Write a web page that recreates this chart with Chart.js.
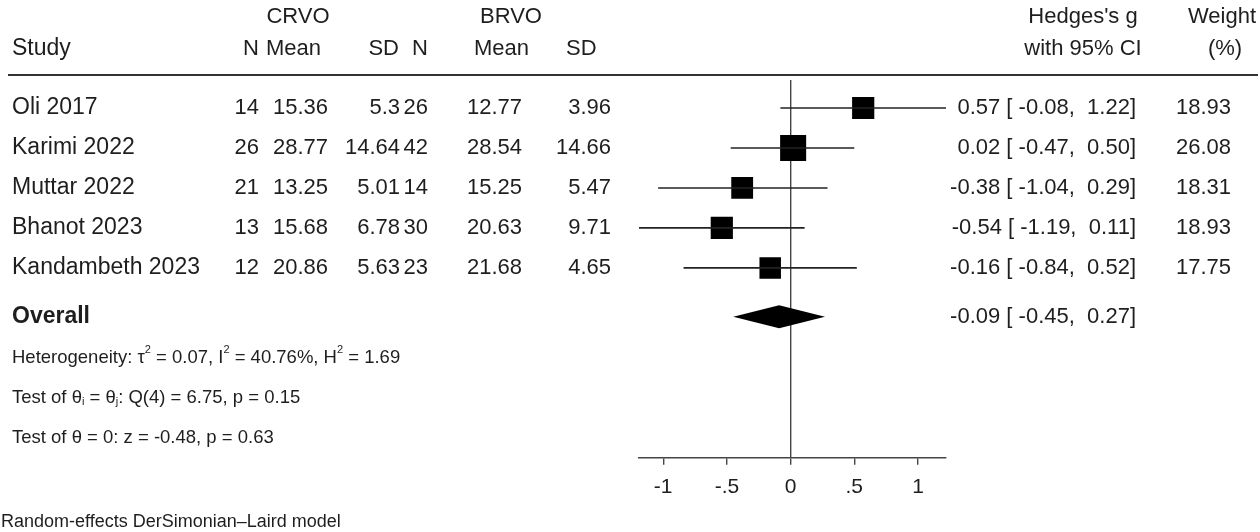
<!DOCTYPE html>
<html>
<head>
<meta charset="utf-8">
<title>Forest plot</title>
<script src="https://cdn.jsdelivr.net/npm/chart.js@4.4.1/dist/chart.umd.min.js"></script>
<style>
  html, body { margin: 0; padding: 0; background: #fff; }
  #wrap { width: 1260px; height: 532px; position: relative; }
</style>
</head>
<body>
<div id="wrap"><canvas id="forestChart"></canvas></div>
<script>
// dados do forest plot
const studies = ['Oli 2017', 'Karimi 2022', 'Muttar 2022', 'Bhanot 2023', 'Kandambeth 2023'];
const crvoN = ['14', '26', '21', '13', '12'];
const crvoMean = ['15.36', '28.77', '13.25', '15.68', '20.86'];
const crvoSD = ['5.3', '14.64', '5.01', '6.78', '5.63'];
const brvoN = ['26', '42', '14', '30', '23'];
const brvoMean = ['12.77', '28.54', '15.25', '20.63', '21.68'];
const brvoSD = ['3.96', '14.66', '5.47', '9.71', '4.65'];
const effect = [0.57, 0.02, -0.38, -0.54, -0.16];
const ciLow = [-0.08, -0.47, -1.04, -1.19, -0.84];
const ciHigh = [1.22, 0.50, 0.29, 0.11, 0.52];
const weight = [18.93, 26.08, 18.31, 18.93, 17.75];
const overall = [-0.09, -0.45, 0.27]; // estimativa, IC inferior, IC superior
const xTicks = [-1, -0.5, 0, 0.5, 1];
const xTickLabels = ['-1', '-.5', '0', '.5', '1'];

const rows = studies.map((s, i) => i + 1);
const overallRow = 6.22;
const FONT = '"Liberation Sans", Arial, sans-serif';
const FS = 22;
const INK = '#1e1e1e';

function fmt(v) { return v.toFixed(2); }
function ciText(e, lo, hi) {
  const l = (lo < 0 ? ' ' : '  ') + fmt(lo);
  const h = (hi < 0 ? ' ' : '  ') + fmt(hi);
  return fmt(e) + ' [' + l + ',' + h + ']';
}

// linhas dos IC como datasets
const ciSets = studies.map((s, i) => ({
  type: 'line',
  data: [{ x: ciLow[i], y: rows[i] }, { x: ciHigh[i], y: rows[i] }],
  borderColor: '#222',
  borderWidth: 1.6,
  pointRadius: 0,
  showLine: true
}));

const squareSet = {
  type: 'scatter',
  data: studies.map((s, i) => ({ x: effect[i], y: rows[i] })),
  pointStyle: 'rect',
  pointRadius: ctx => 5.1 * Math.sqrt(weight[ctx.dataIndex]) / Math.SQRT2,
  pointHoverRadius: ctx => 5.1 * Math.sqrt(weight[ctx.dataIndex]) / Math.SQRT2,
  backgroundColor: '#000',
  borderColor: '#000',
  borderWidth: 0
};

// texto da tabela + losango
const tablePlugin = {
  id: 'tablePlugin',
  afterDatasetsDraw(chart) {
    const c = chart.ctx;
    const xs = chart.scales.x;
    const ys = chart.scales.y;

    // losango do efeito global
    const yo = ys.getPixelForValue(overallRow);
    c.save();
    c.fillStyle = '#000';
    c.beginPath();
    c.moveTo(xs.getPixelForValue(overall[1]), yo);
    c.lineTo(xs.getPixelForValue(overall[0]), yo - 11.5);
    c.lineTo(xs.getPixelForValue(overall[2]), yo);
    c.lineTo(xs.getPixelForValue(overall[0]), yo + 11.5);
    c.closePath();
    c.fill();
    c.restore();

    c.save();
    c.fillStyle = INK;
    c.textBaseline = 'middle';
    const f = (s, b) => (b ? 'bold ' : '') + s + 'px ' + FONT;
    const put = (t, x, y, align) => { c.textAlign = align || 'left'; c.fillText(t, x, y); };

    // cabeçalho
    c.font = f(FS);
    put('CRVO', 298, 17, 'center');
    put('BRVO', 511, 17, 'center');
    put("Hedges's g", 1083, 17, 'center');
    put('Weight', 1222, 17, 'center');
    put('N', 259, 49, 'right');
    put('Mean', 321, 49, 'right');
    put('SD', 399, 49, 'right');
    put('N', 428, 49, 'right');
    put('Mean', 474, 49);
    put('SD', 566, 49);
    put('with 95% CI', 1083, 49, 'center');
    put('(%)', 1225, 49, 'center');
    c.font = f(23);
    put('Study', 12, 49);

    c.strokeStyle = '#333';
    c.lineWidth = 2;
    c.beginPath();
    c.moveTo(8, 75);
    c.lineTo(1258, 75);
    c.stroke();

    studies.forEach((s, i) => {
      const y = ys.getPixelForValue(rows[i]);
      c.font = f(23);
      put(s, 12, y);
      c.font = f(FS);
      put(crvoN[i], 259, y, 'right');
      put(crvoMean[i], 328, y, 'right');
      put(crvoSD[i], 400, y, 'right');
      put(brvoN[i], 428, y, 'right');
      put(brvoMean[i], 522, y, 'right');
      put(brvoSD[i], 611, y, 'right');
      put(ciText(effect[i], ciLow[i], ciHigh[i]), 1136, y, 'right');
      put(weight[i].toFixed(2), 1231, y, 'right');
    });

    c.font = f(23, true);
    put('Overall', 12, yo);
    c.font = f(FS);
    put(ciText(overall[0], overall[1], overall[2]), 1136, yo, 'right');

    // linhas de heterogeneidade (com sobrescritos / subscritos)
    const HS = 18.5;
    const runs = (parts, x, y) => {
      c.textAlign = 'left';
      parts.forEach(p => {
        c.font = p[1] ? f(11) : f(HS);
        const dy = p[1] === 'sup' ? -8 : (p[1] === 'sub' ? 4 : 0);
        c.fillText(p[0], x, y + dy);
        x += c.measureText(p[0]).width;
      });
    };
    const y1 = ys.getPixelForValue(7.25);
    const y2 = ys.getPixelForValue(8.25);
    const y3 = ys.getPixelForValue(9.25);
    runs([['Heterogeneity: \u03C4'], ['2', 'sup'], [' = 0.07, I'], ['2', 'sup'], [' = 40.76%, H'], ['2', 'sup'], [' = 1.69']], 12, y1);
    runs([['Test of \u03B8'], ['i', 'sub'], [' = \u03B8'], ['j', 'sub'], [': Q(4) = 6.75, p = 0.15']], 12, y2);
    runs([['Test of \u03B8 = 0: z = -0.48, p = 0.63']], 12, y3);

    c.font = f(18);
    put('Random-effects DerSimonian\u2013Laird model', 1, 522);
    c.restore();
  }
};

const ctx = document.getElementById('forestChart').getContext('2d');
const forestChart = new Chart(ctx, {
  data: { datasets: [...ciSets, squareSet] },
  options: {
    responsive: true,
    maintainAspectRatio: false,
    animation: false,
    events: [],
    layout: { padding: { left: 639, right: 314, top: 80, bottom: 22 } },
    plugins: { legend: { display: false }, tooltip: { enabled: false } },
    scales: {
      x: {
        type: 'linear',
        min: -1.19,
        max: 1.22,
        afterBuildTicks: axis => { axis.ticks = xTicks.map(v => ({ value: v })); },
        ticks: {
          color: INK,
          font: { family: FONT, size: 21 },
          padding: 10,
          autoSkip: false,
          maxRotation: 0,
          callback: (v) => xTickLabels[xTicks.indexOf(v)]
        },
        grid: {
          drawOnChartArea: true,
          color: c => (c.tick && c.tick.value === 0 ? '#444' : 'rgba(0,0,0,0)'),
          lineWidth: 1.4,
          tickLength: 7,
          tickColor: '#444'
        },
        border: { display: true, color: '#444', width: 1.6 }
      },
      y: {
        type: 'linear',
        reverse: true,
        min: 0.3,
        max: 9.75,
        display: false
      }
    }
  },
  plugins: [tablePlugin]
});
</script>
</body>
</html>
